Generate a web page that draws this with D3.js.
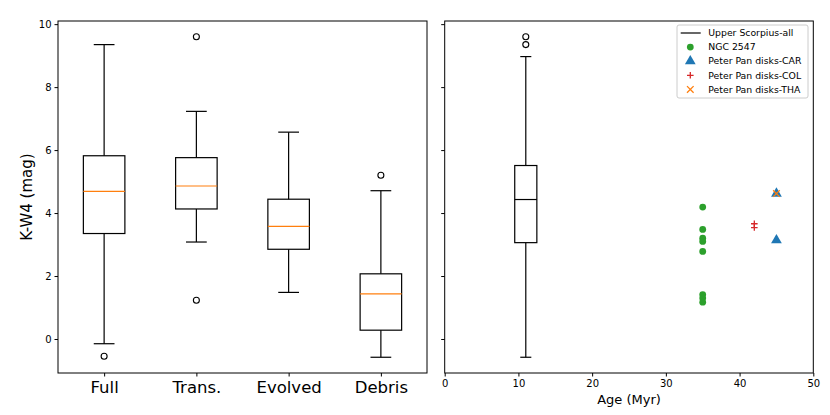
<!DOCTYPE html>
<html>
<head>
<meta charset="utf-8">
<script src="https://cdn.jsdelivr.net/npm/d3@7"></script>
<style>
  body { margin: 0; background: #fff; }
  text { font-family: "DejaVu Sans", sans-serif; }
</style>
</head>
<body>
<script>
// ---------- DATA ----------
var categories = ["Full", "Trans.", "Evolved", "Debris"];
var whiskLow  = [-0.15, 3.08, 1.48, -0.58];
var q1        = [3.35, 4.13, 2.85, 0.28];
var medians   = [4.69, 4.86, 3.58, 1.43];
var q3        = [5.82, 5.76, 4.44, 2.07];
var whiskHigh = [9.35, 7.23, 6.57, 4.71];
var outliers  = [[-0.55], [9.6, 1.23], [], [5.2]];

// Upper Scorpius box at age 11 Myr
var uscAge = 11;
var uscStats = [-0.58, 3.06, 4.43, 5.51, 8.97];
var uscOutliers = [9.6, 9.35];

var ngcAge = [35, 35, 35, 35, 35, 35, 35, 35];
var ngcVal = [4.19, 3.48, 3.20, 3.10, 2.78, 1.41, 1.30, 1.17];
var carAge = [45, 45];
var carVal = [4.62, 3.14];
var colAge = [42, 42];
var colVal = [3.66, 3.54];
var thaAge = [45];
var thaVal = [4.62];

var yTicks = [0, 2, 4, 6, 8, 10];
var ageTicks = [0, 10, 20, 30, 40, 50];

// ---------- LAYOUT ----------
var W = 830, H = 415;
var plotTop = 21, plotBottom = 373;
var left1 = 58, right1 = 427;
var left2 = 444.7, right2 = 813.3;

var svg = d3.select("body").append("svg")
  .attr("width", W).attr("height", H);

var y = d3.scaleLinear().domain([-1.08, 10.1]).range([plotBottom, plotTop]);
var x1 = d3.scaleLinear().domain([0.5, 4.5]).range([left1, right1]);
var x2 = d3.scaleLinear().domain([0, 50]).range([left2, right2]);

var colors = { green: "#2ca02c", blue: "#1f77b4", red: "#d62728", orange: "#ff7f0e" };

// draws one box (vertical) at pixel cx with pixel width bw
function drawBox(g, cx, bw, st, outs, medColor) {
  var lo = st[0], a = st[1], m = st[2], b = st[3], hi = st[4];
  g.append("line").attr("x1", cx).attr("x2", cx).attr("y1", y(a)).attr("y2", y(lo))
    .attr("stroke", "black").attr("stroke-width", 1.2);
  g.append("line").attr("x1", cx).attr("x2", cx).attr("y1", y(b)).attr("y2", y(hi))
    .attr("stroke", "black").attr("stroke-width", 1.2);
  [lo, hi].forEach(function (v) {
    g.append("line").attr("x1", cx - bw / 4).attr("x2", cx + bw / 4)
      .attr("y1", y(v)).attr("y2", y(v))
      .attr("stroke", "black").attr("stroke-width", 1.2);
  });
  g.append("rect").attr("x", cx - bw / 2).attr("y", y(b))
    .attr("width", bw).attr("height", y(a) - y(b))
    .attr("fill", "none").attr("stroke", "black").attr("stroke-width", 1.2);
  g.append("line").attr("x1", cx - bw / 2).attr("x2", cx + bw / 2)
    .attr("y1", y(m)).attr("y2", y(m))
    .attr("stroke", medColor).attr("stroke-width", 1.2);
  outs.forEach(function (v) {
    g.append("circle").attr("cx", cx).attr("cy", y(v)).attr("r", 3)
      .attr("fill", "none").attr("stroke", "black").attr("stroke-width", 1.1);
  });
}

// ---------- LEFT PANEL ----------
var g1 = svg.append("g");
var bw1 = (x1(2) - x1(1)) * 0.45;
categories.forEach(function (c, i) {
  drawBox(g1, x1(i + 1), bw1,
    [whiskLow[i], q1[i], medians[i], q3[i], whiskHigh[i]], outliers[i], colors.orange);
});

g1.append("g").attr("transform", "translate(" + left1 + ",0)")
  .call(d3.axisLeft(y).tickValues(yTicks).tickSize(3.5).tickPadding(3))
  .call(function (a) {
    a.select(".domain").remove();
    a.selectAll("text").attr("font-size", 10).attr("fill", "#000");
  });

g1.append("g").attr("transform", "translate(0," + plotBottom + ")")
  .call(d3.axisBottom(x1).tickValues([1, 2, 3, 4]).tickFormat(function (d) { return categories[d - 1]; })
    .tickSize(3.5).tickPadding(5))
  .call(function (a) {
    a.select(".domain").remove();
    a.selectAll("text").attr("font-size", 16.5).attr("fill", "#000");
  });

g1.append("rect").attr("x", left1).attr("y", plotTop)
  .attr("width", right1 - left1).attr("height", plotBottom - plotTop)
  .attr("fill", "none").attr("stroke", "black").attr("stroke-width", 1);

g1.append("text")
  .attr("transform", "translate(27," + ((plotTop + plotBottom) / 2) + ") rotate(-90)")
  .attr("text-anchor", "middle").attr("dy", "0.35em")
  .attr("font-size", 15).text("K-W4 (mag)");

// ---------- RIGHT PANEL ----------
var g2 = svg.append("g");
var bw2 = x2(3) - x2(0);
drawBox(g2, x2(uscAge), bw2, uscStats, uscOutliers, "black");

var ptsG = g2.append("g");
ngcAge.forEach(function (a, i) {
  ptsG.append("circle").attr("cx", x2(a)).attr("cy", y(ngcVal[i])).attr("r", 3.4)
    .attr("fill", colors.green);
});
var tri = d3.symbol().type(d3.symbolTriangle).size(50);
carAge.forEach(function (a, i) {
  ptsG.append("path").attr("d", tri)
    .attr("transform", "translate(" + x2(a) + "," + y(carVal[i]) + ")")
    .attr("fill", colors.blue);
});
function plus(g, cx, cy, s, col) {
  g.append("path").attr("d", "M" + (cx - s) + "," + cy + "H" + (cx + s) + "M" + cx + "," + (cy - s) + "V" + (cy + s))
    .attr("stroke", col).attr("stroke-width", 1.3).attr("fill", "none");
}
function cross(g, cx, cy, s, col) {
  g.append("path").attr("d", "M" + (cx - s) + "," + (cy - s) + "L" + (cx + s) + "," + (cy + s) +
      "M" + (cx - s) + "," + (cy + s) + "L" + (cx + s) + "," + (cy - s))
    .attr("stroke", col).attr("stroke-width", 1.3).attr("fill", "none");
}
colAge.forEach(function (a, i) { plus(ptsG, x2(a), y(colVal[i]), 3.3, colors.red); });
thaAge.forEach(function (a, i) { cross(ptsG, x2(a), y(thaVal[i]), 3.3, colors.orange); });

g2.append("g").attr("transform", "translate(" + left2 + ",0)")
  .call(d3.axisLeft(y).tickValues(yTicks).tickSize(3.5).tickFormat(""))
  .call(function (a) { a.select(".domain").remove(); });

g2.append("g").attr("transform", "translate(0," + plotBottom + ")")
  .call(d3.axisBottom(x2).tickValues(ageTicks).tickSize(3.5).tickPadding(3))
  .call(function (a) {
    a.select(".domain").remove();
    a.selectAll("text").attr("font-size", 10).attr("fill", "#000");
  });

g2.append("rect").attr("x", left2).attr("y", plotTop)
  .attr("width", right2 - left2).attr("height", plotBottom - plotTop)
  .attr("fill", "none").attr("stroke", "black").attr("stroke-width", 1);

g2.append("text").attr("x", (left2 + right2) / 2).attr("y", 404)
  .attr("text-anchor", "middle").attr("font-size", 13).text("Age (Myr)");

// ---------- LEGEND ----------
var legendNames = ["Upper Scorpius-all", "NGC 2547", "Peter Pan disks-CAR", "Peter Pan disks-COL", "Peter Pan disks-THA"];
var lg = svg.append("g").attr("transform", "translate(677,25)");
lg.append("rect").attr("width", 131).attr("height", 73).attr("rx", 2)
  .attr("fill", "white").attr("fill-opacity", 0.8)
  .attr("stroke", "#ccc").attr("stroke-width", 1);
legendNames.forEach(function (name, i) {
  var yy = 8 + i * 14.1;
  var mx = 13.3;
  if (i === 0) {
    lg.append("line").attr("x1", 3.7).attr("x2", 23.7).attr("y1", yy).attr("y2", yy)
      .attr("stroke", "black").attr("stroke-width", 1.2);
  } else if (i === 1) {
    lg.append("circle").attr("cx", mx).attr("cy", yy).attr("r", 3.4).attr("fill", colors.green);
  } else if (i === 2) {
    lg.append("path").attr("d", tri).attr("transform", "translate(" + mx + "," + yy + ")").attr("fill", colors.blue);
  } else if (i === 3) {
    plus(lg, mx, yy, 3.3, colors.red);
  } else {
    cross(lg, mx, yy, 3.3, colors.orange);
  }
  lg.append("text").attr("x", 31.3).attr("y", yy).attr("dy", "0.35em")
    .attr("font-size", 9.3).text(name);
});
</script>
</body>
</html>
